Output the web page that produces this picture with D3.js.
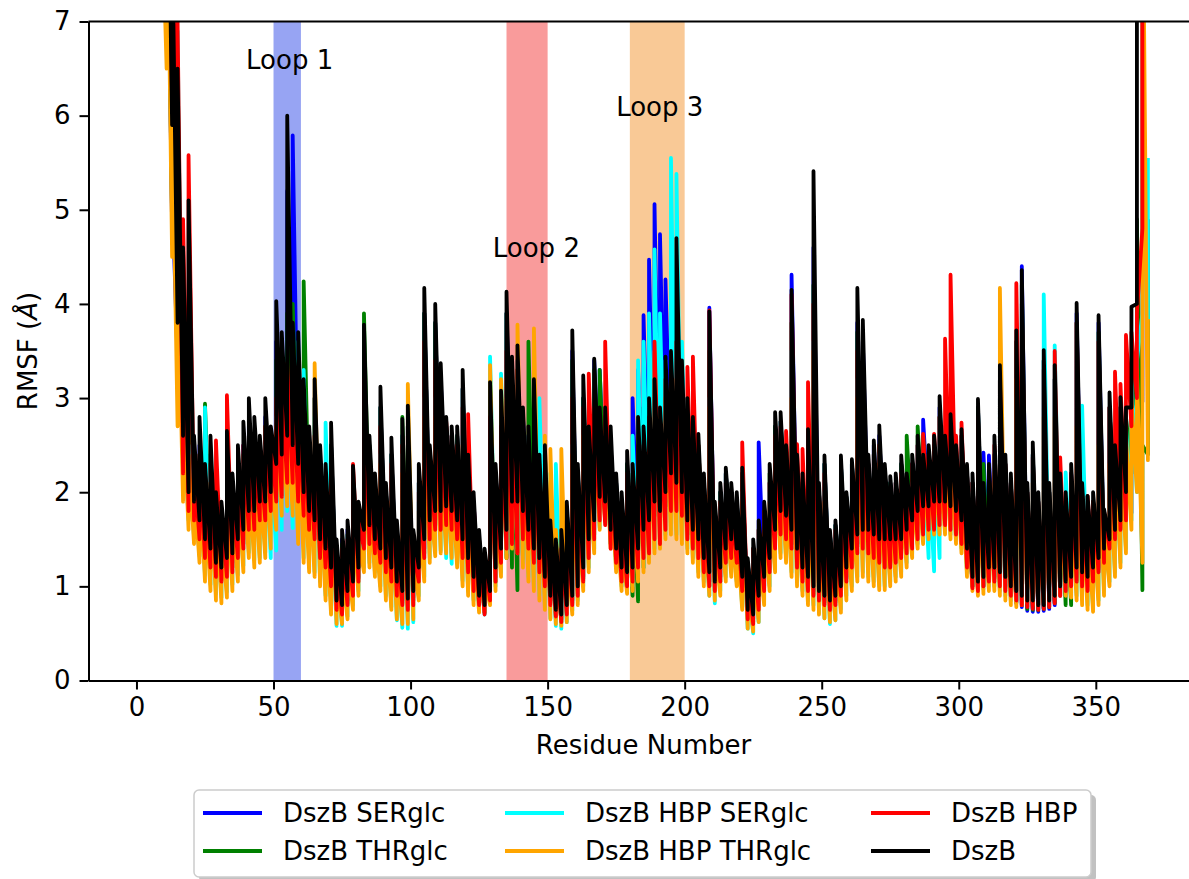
<!DOCTYPE html>
<html>
<head>
<meta charset="utf-8">
<script src="https://d3js.org/d3.v7.min.js"></script>
<style>
  body { margin: 0; background: #fff; }
  svg { display: block; font-family: "DejaVu Sans", sans-serif; }
</style>
</head>
<body>
<div id="chart"></div>
<script>
// Residues sampled every 2 (1, 3, ..., 369); each sample has a low and a high RMSF value (Å)
const residues = d3.range(1, 370, 2);

const seriesNames = ["DszB SERglc", "DszB THRglc", "DszB HBP SERglc", "DszB HBP THRglc", "DszB HBP", "DszB"];
const seriesColors = ["blue", "green", "cyan", "orange", "red", "black"];

const blueLo = [
  9.5, 9, 8.5, 8, 7.5, 7.0, 4.8, 3.4, 2.5, 2.0,
  1.8, 1.6, 1.4, 1.3, 1.15, 1.1, 1.2, 1.25, 1.4, 1.5,
  1.7, 1.7, 1.8, 1.8, 1.9, 2.1, 2.2, 2.3, 2.3, 2.1,
  1.9, 1.7, 1.6, 1.4, 1.3, 1.1, 0.8, 0.78, 0.85, 0.95,
  1.1, 1.5, 1.55, 1.4, 1.3, 1.2, 1.1, 0.95, 0.85, 0.8,
  0.88, 1.1, 1.4, 1.6, 1.7, 1.7, 1.75, 1.7, 1.6, 1.4,
  1.2, 1.0, 0.82, 0.72, 0.88, 1.1, 1.3, 1.5, 1.8, 1.8,
  1.7, 1.5, 1.3, 1.2, 1.0, 0.85, 0.7, 0.65, 0.75, 0.85,
  0.95, 1.1, 1.4, 1.6, 1.85, 1.8, 1.5, 1.3, 1.1, 1.05,
  1.1, 1.3, 1.5, 1.6, 1.8, 1.7, 1.9, 2.1, 2.0, 1.9,
  1.6, 1.5, 1.4, 1.2, 1.05, 1.0, 1.1, 1.3, 1.4, 1.3,
  1.0, 0.7, 0.65, 0.8, 1.0, 1.2, 1.5, 1.7, 1.65, 1.5,
  1.3, 1.1, 1.0, 0.95, 0.9, 0.85, 0.8, 0.85, 0.95, 1.1,
  1.3, 1.45, 1.5, 1.5, 1.45, 1.4, 1.4, 1.4, 1.4, 1.4,
  1.5, 1.6, 1.7, 1.75, 1.75, 1.8, 1.8, 1.8, 1.75, 1.7,
  1.6, 1.3, 1.0, 0.98, 1.0, 1.1, 1.1, 1.05, 1.0, 0.9,
  0.82, 0.78, 0.74, 0.73, 0.73, 0.74, 0.76, 0.8, 0.9, 0.95,
  1.0, 1.1, 1.05, 1.0, 1.1, 1.2, 1.3, 1.45, 1.55, 1.65,
  1.7, 1.78, 2.96, 2.96, 10.0
];
const blueHi = [
  11, 10.5, 10, 9.5, 9, 9, 5.2, 4.4, 3.0, 2.8,
  2.4, 2.5, 2.1, 2.4, 1.9, 1.8, 2.4, 2.1, 2.3, 2.5,
  2.7, 2.6, 2.5, 2.8, 2.6, 3.6, 3.3, 5.2, 5.79, 3.5,
  3.0, 2.5, 3.0, 2.3, 2.1, 2.5, 1.4, 1.5, 1.6, 2.1,
  1.8, 3.5, 2.4, 2.0, 2.9, 2.0, 2.4, 1.6, 2.6, 2.7,
  1.5, 2.1, 3.9, 2.4, 3.8, 3.2, 2.7, 2.6, 2.6, 3.1,
  2.3, 1.9, 1.5, 1.3, 3.0, 2.2, 2.9, 3.9, 3.2, 3.4,
  2.8, 2.6, 3.0, 2.3, 2.4, 1.6, 1.4, 1.5, 1.8, 3.5,
  2.2, 3.0, 2.6, 3.4, 3.3, 2.8, 2.5, 2.1, 1.9, 2.3,
  3.0, 3.3, 3.88, 4.47, 5.06, 4.74, 4.26, 3.5, 3.6, 3.3,
  2.9, 2.6, 2.4, 2.1, 3.96, 1.8, 2.0, 2.2, 2.0, 1.9,
  2.2, 1.25, 1.4, 2.53, 1.8, 2.1, 2.7, 2.75, 2.4, 4.31,
  2.3, 2.1, 2.6, 4.6, 2.0, 2.3, 1.55, 1.65, 2.3, 1.95,
  2.3, 3.8, 3.6, 2.3, 2.5, 2.6, 2.2, 2.1, 2.1, 2.3,
  2.1, 2.3, 2.5, 2.77, 2.4, 2.5, 2.9, 2.5, 2.7, 2.4,
  2.6, 2.2, 2.1, 2.9, 2.42, 2.39, 2.3, 3.2, 2.3, 2.1,
  3.6, 4.4, 2.0, 2.4, 1.9, 3.4, 2.0, 3.2, 2.1, 1.9,
  2.2, 3.9, 2.0, 1.9, 1.9, 3.8, 1.75, 2.9, 2.4, 2.9,
  2.8, 3.0, 3.1, 9.0, 12.0
];

const greenLo = [
  9, 8.5, 8, 7.5, 7.5, 7.0, 4.9, 3.9, 2.6, 1.9,
  1.75, 1.55, 1.35, 1.25, 1.12, 1.08, 1.15, 1.2, 1.35, 1.45,
  1.65, 1.65, 1.75, 1.75, 1.85, 2.0, 2.1, 2.2, 2.2, 2.0,
  1.8, 1.65, 1.55, 1.35, 1.25, 1.05, 0.78, 0.74, 0.82, 0.92,
  1.08, 1.45, 1.5, 1.38, 1.28, 1.18, 1.08, 0.92, 0.82, 0.78,
  0.85, 1.08, 1.35, 1.55, 1.65, 1.65, 1.7, 1.65, 1.55, 1.35,
  1.15, 0.98, 0.8, 0.72, 0.86, 1.05, 1.2, 1.3, 1.2, 0.96,
  1.3, 1.45, 1.25, 1.1, 0.98, 0.82, 0.66, 0.62, 0.72, 0.82,
  0.92, 1.08, 1.35, 1.55, 1.8, 1.75, 1.45, 1.25, 1.05, 0.95,
  0.9, 0.84, 1.2, 1.5, 1.75, 1.65, 1.85, 2.05, 1.95, 1.85,
  1.55, 1.45, 1.35, 1.15, 1.0, 0.95, 1.05, 1.25, 1.35, 1.25,
  0.95, 0.68, 0.62, 0.78, 0.98, 1.18, 1.45, 1.65, 1.6, 1.45,
  1.25, 1.08, 0.98, 0.92, 0.88, 0.83, 0.78, 0.83, 0.93, 1.08,
  1.28, 1.42, 1.48, 1.45, 1.4, 1.38, 1.38, 1.38, 1.38, 1.4,
  1.5, 1.58, 1.68, 1.72, 1.72, 1.78, 1.78, 1.78, 1.72, 1.68,
  1.55, 1.25, 1.0, 0.97, 1.0, 1.08, 1.08, 1.03, 0.98, 0.9,
  0.83, 0.8, 0.76, 0.75, 0.75, 0.76, 0.78, 0.82, 0.92, 0.8,
  0.8, 1.05, 1.0, 1.0, 1.08, 1.18, 1.28, 1.42, 1.52, 1.62,
  1.7, 2.2, 2.85, 0.96, 2.4
];
const greenHi = [
  10, 9.5, 9, 8.5, 9, 9, 6.1, 4.6, 3.25, 2.7,
  2.3, 2.4, 2.94, 2.3, 1.9, 1.8, 2.3, 2.0, 2.2, 2.4,
  2.6, 2.5, 2.4, 2.7, 2.5, 3.4, 3.3, 3.9, 4.0, 3.4,
  4.24, 2.5, 3.0, 2.3, 2.1, 2.5, 1.35, 1.45, 1.55, 2.1,
  1.7, 3.9, 2.5, 2.0, 2.9, 2.0, 2.4, 1.55, 2.8, 2.7,
  1.45, 2.1, 3.9, 2.4, 3.8, 3.1, 2.7, 2.6, 2.6, 3.1,
  2.3, 1.85, 1.5, 1.3, 3.0, 2.2, 2.9, 3.9, 3.2, 3.3,
  2.7, 3.6, 2.6, 2.3, 2.4, 1.6, 1.4, 1.5, 1.8, 3.4,
  2.2, 3.0, 2.6, 3.3, 3.3, 2.8, 2.5, 2.1, 1.9, 2.3,
  2.2, 2.6, 2.9, 3.2, 3.4, 3.2, 3.3, 3.3, 3.6, 3.3,
  2.9, 2.7, 2.5, 2.1, 3.5, 1.8, 2.0, 2.2, 2.0, 1.9,
  2.2, 1.25, 1.4, 1.6, 1.8, 2.2, 2.7, 2.75, 2.4, 3.8,
  2.3, 2.1, 2.5, 4.2, 2.0, 2.3, 1.55, 1.65, 2.3, 1.95,
  2.3, 3.7, 3.4, 2.3, 2.4, 2.5, 2.1, 2.1, 2.1, 2.3,
  2.6, 2.2, 2.7, 2.6, 2.3, 2.5, 2.8, 2.5, 2.7, 2.4,
  2.6, 2.2, 2.1, 2.9, 2.3, 2.2, 2.4, 3.2, 2.3, 2.1,
  3.6, 4.2, 2.0, 2.4, 1.9, 3.4, 2.0, 3.2, 2.1, 1.9,
  2.1, 3.8, 2.0, 1.9, 1.9, 3.7, 1.75, 2.9, 2.4, 2.9,
  2.8, 3.3, 4.9, 2.5, 4.9
];

const cyanLo = [
  9.5, 9, 8.5, 8, 8, 8, 6.5, 3.5, 2.1, 1.7,
  1.52, 1.32, 1.12, 1.02, 0.92, 0.88, 0.94, 1.02, 1.12, 1.22,
  1.36, 1.28, 1.3, 1.36, 1.3, 1.38, 1.6, 1.8, 1.62, 1.5,
  1.3, 1.2, 1.15, 1.05, 0.9, 0.72, 0.58, 0.58, 0.68, 0.8,
  0.95, 1.2, 1.25, 1.15, 1.0, 0.9, 0.78, 0.64, 0.56, 0.55,
  0.62, 0.9, 1.1, 1.3, 1.36, 1.38, 1.3, 1.24, 1.24, 1.06,
  0.95, 0.85, 0.75, 0.7, 0.84, 1.0, 1.15, 1.35, 1.45, 1.4,
  1.25, 1.1, 1.0, 0.9, 0.78, 0.66, 0.58, 0.55, 0.62, 0.74,
  0.85, 1.0, 1.2, 1.4, 1.62, 1.72, 1.45, 1.2, 1.0, 0.97,
  1.0, 1.1, 1.2, 1.3, 1.4, 1.45, 1.55, 1.6, 1.55, 1.5,
  1.4, 1.3, 1.15, 1.05, 0.9, 0.82, 0.95, 1.1, 1.15, 1.05,
  0.78, 0.55, 0.5, 0.62, 0.85, 1.0, 1.2, 1.35, 1.3, 1.15,
  1.05, 0.95, 0.85, 0.8, 0.72, 0.66, 0.6, 0.64, 0.76, 0.9,
  1.0, 1.1, 1.15, 1.1, 1.05, 1.0, 1.0, 1.05, 1.1, 1.15,
  1.25, 1.35, 1.45, 1.5, 1.3, 1.16, 1.3, 1.6, 1.55, 1.5,
  1.4, 1.15, 1.0, 0.95, 0.97, 1.0, 1.0, 0.95, 0.9, 0.85,
  0.84, 0.86, 0.88, 0.86, 0.86, 0.88, 0.9, 0.93, 0.95, 0.95,
  0.93, 0.9, 0.86, 0.8, 0.78, 0.85, 0.95, 1.05, 1.15, 1.25,
  1.4, 1.7, 2.0, 3.9, 3.84
];
const cyanHi = [
  10, 9.5, 9, 8.5, 9, 9, 7.5, 6.9, 3.0, 2.5,
  2.2, 2.3, 2.9, 2.1, 1.9, 1.7, 2.2, 2.0, 2.1, 2.3,
  2.4, 2.3, 2.3, 2.5, 2.4, 2.8, 2.9, 3.2, 3.3, 3.6,
  3.3, 2.4, 2.8, 2.2, 2.74, 2.0, 1.3, 1.3, 1.4, 2.0,
  1.6, 2.9, 2.1, 1.8, 2.4, 1.8, 2.0, 1.4, 2.4, 2.5,
  1.3, 1.9, 3.0, 2.1, 3.0, 2.6, 2.4, 2.3, 2.3, 2.6,
  2.1, 1.7, 1.4, 1.2, 3.44, 2.0, 3.26, 3.0, 2.8, 3.2,
  2.5, 2.4, 2.6, 3.0, 2.4, 2.2, 2.3, 1.5, 1.6, 2.5,
  1.9, 2.5, 2.2, 2.6, 2.4, 2.6, 2.3, 1.9, 1.6, 1.9,
  2.6, 3.4, 3.6, 3.9, 4.58, 3.9, 3.4, 5.55, 5.38, 3.6,
  3.0, 2.6, 2.3, 2.0, 3.0, 1.6, 1.8, 2.0, 1.8, 1.7,
  2.0, 1.1, 1.3, 1.5, 1.7, 2.0, 2.4, 2.5, 2.3, 3.5,
  2.1, 2.0, 2.4, 3.6, 1.9, 2.0, 1.4, 1.5, 2.0, 1.8,
  2.0, 3.2, 3.0, 2.1, 2.2, 2.4, 2.0, 1.9, 2.0, 2.1,
  2.0, 2.1, 2.3, 2.4, 2.3, 2.4, 2.5, 2.7, 2.6, 2.5,
  2.4, 2.1, 2.0, 2.4, 1.9, 2.1, 2.3, 3.0, 2.2, 2.0,
  3.0, 3.2, 1.9, 2.2, 1.8, 4.1, 2.0, 3.56, 2.1, 2.21,
  2.0, 2.2, 2.92, 1.7, 1.7, 2.5, 1.6, 2.2, 2.4, 2.5,
  2.7, 3.2, 3.4, 5.4, 5.55
];

const orangeLo = [
  9, 8.5, 8, 7.5, 7.2, 6.5, 4.5, 2.7, 1.9, 1.6,
  1.45, 1.25, 1.05, 0.95, 0.85, 0.82, 0.88, 0.95, 1.05, 1.15,
  1.3, 1.2, 1.25, 1.3, 1.4, 1.6, 1.75, 1.85, 1.75, 1.45,
  1.25, 1.15, 1.1, 1.0, 0.85, 0.7, 0.6, 0.6, 0.65, 0.75,
  0.9, 1.15, 1.2, 1.1, 0.95, 0.85, 0.75, 0.65, 0.6, 0.6,
  0.65, 0.85, 1.05, 1.25, 1.32, 1.35, 1.35, 1.3, 1.2, 1.0,
  0.9, 0.8, 0.72, 0.72, 0.8, 0.95, 1.1, 1.3, 1.4, 1.35,
  1.2, 1.05, 0.95, 0.85, 0.75, 0.65, 0.6, 0.58, 0.62, 0.7,
  0.8, 0.95, 1.15, 1.35, 1.6, 1.69, 1.4, 1.15, 0.95, 0.92,
  0.95, 1.05, 1.15, 1.25, 1.35, 1.4, 1.5, 1.55, 1.5, 1.45,
  1.35, 1.25, 1.1, 1.0, 0.9, 0.85, 0.9, 1.05, 1.1, 1.0,
  0.75, 0.55, 0.52, 0.62, 0.8, 0.95, 1.15, 1.3, 1.25, 1.1,
  1.0, 0.9, 0.8, 0.75, 0.7, 0.66, 0.62, 0.64, 0.72, 0.85,
  0.95, 1.05, 1.1, 1.05, 1.0, 0.96, 0.96, 1.0, 1.05, 1.1,
  1.2, 1.3, 1.4, 1.45, 1.5, 1.55, 1.55, 1.55, 1.5, 1.45,
  1.35, 1.1, 0.95, 0.9, 0.92, 0.95, 0.95, 0.9, 0.85, 0.8,
  0.78, 0.8, 0.82, 0.8, 0.8, 0.82, 0.85, 0.88, 0.9, 0.9,
  0.88, 0.85, 0.8, 0.75, 0.73, 0.8, 0.9, 1.0, 1.1, 1.2,
  1.35, 1.6, 2.0, 1.25, 2.34
];
const orangeHi = [
  10, 9.5, 9, 8.5, 8.5, 9, 6.1, 4.5, 3.0, 2.4,
  2.1, 2.2, 2.0, 2.1, 1.9, 1.6, 2.1, 1.9, 2.1, 2.2,
  2.3, 2.2, 2.2, 2.4, 2.3, 2.7, 2.8, 2.9, 3.1, 2.8,
  2.4, 2.2, 3.37, 2.0, 1.8, 2.1, 1.1, 1.2, 1.3, 1.8,
  1.5, 2.7, 2.0, 1.7, 2.3, 1.7, 1.9, 1.3, 2.2, 3.15,
  1.3, 1.8, 2.8, 2.0, 2.8, 2.4, 2.3, 2.2, 2.2, 2.5,
  2.0, 1.6, 1.3, 1.1, 3.35, 1.9, 3.2, 3.0, 2.9, 3.78,
  2.6, 2.5, 3.74, 2.3, 2.6, 2.46, 1.6, 2.46, 1.5, 2.4,
  1.8, 2.6, 2.2, 2.7, 2.4, 2.6, 2.2, 1.8, 1.5, 1.9,
  1.9, 2.6, 2.4, 2.7, 3.5, 2.8, 3.0, 3.0, 3.2, 3.0,
  2.6, 2.5, 2.2, 1.8, 2.9, 1.5, 1.7, 1.9, 1.7, 1.6,
  1.9, 1.0, 1.2, 1.4, 1.6, 1.9, 2.3, 2.4, 2.2, 3.0,
  2.1, 2.0, 2.3, 3.5, 1.8, 1.9, 1.3, 1.4, 1.9, 1.7,
  1.9, 3.0, 2.8, 2.0, 2.1, 2.3, 1.9, 1.8, 1.9, 2.0,
  1.9, 2.0, 2.2, 2.3, 2.2, 2.3, 2.4, 2.6, 2.5, 2.4,
  2.3, 2.0, 1.9, 2.3, 1.8, 2.0, 2.2, 4.17, 2.1, 1.9,
  3.2, 3.0, 1.8, 2.1, 1.7, 2.8, 1.8, 2.8, 2.0, 1.7,
  1.9, 2.7, 1.8, 1.7, 1.7, 2.5, 1.6, 2.3, 2.5, 2.4,
  2.6, 3.0, 3.3, 9.0, 3.84
];

const redLo = [
  9.5, 9, 8.5, 8, 8, 8, 6.1, 4.6, 2.2, 1.8,
  1.7, 1.5, 1.3, 1.2, 1.1, 1.05, 1.1, 1.15, 1.3, 1.4,
  1.6, 1.6, 1.7, 1.7, 1.8, 1.9, 1.95, 2.1, 2.1, 1.9,
  1.75, 1.6, 1.5, 1.3, 1.2, 1.0, 0.75, 0.7, 0.8, 0.9,
  1.05, 1.4, 1.45, 1.35, 1.25, 1.15, 1.05, 0.9, 0.8, 0.75,
  0.8, 1.05, 1.3, 1.5, 1.6, 1.6, 1.65, 1.6, 1.5, 1.3,
  1.15, 0.95, 0.8, 0.7, 0.85, 1.05, 1.25, 1.4, 1.45, 1.35,
  1.5, 1.4, 1.25, 1.15, 1.0, 0.8, 0.68, 0.62, 0.7, 0.8,
  0.9, 1.05, 1.3, 1.5, 1.7, 1.65, 1.4, 1.25, 1.05, 1.0,
  1.05, 1.2, 1.3, 1.35, 1.5, 1.45, 1.6, 1.8, 1.8, 1.75,
  1.5, 1.4, 1.3, 1.15, 1.0, 0.95, 1.05, 1.25, 1.3, 1.25,
  0.95, 0.65, 0.6, 0.75, 0.95, 1.15, 1.4, 1.55, 1.5, 1.4,
  1.2, 1.05, 0.95, 0.9, 0.85, 0.8, 0.75, 0.8, 0.9, 1.05,
  1.2, 1.35, 1.4, 1.35, 1.3, 1.25, 1.2, 1.2, 1.25, 1.3,
  1.35, 1.4, 1.5, 1.55, 1.6, 1.6, 1.65, 1.65, 1.6, 1.55,
  1.45, 1.2, 0.98, 0.95, 1.0, 1.05, 1.05, 1.0, 0.95, 0.9,
  0.85, 0.8, 0.78, 0.76, 0.75, 0.76, 0.78, 0.82, 0.9, 0.95,
  1.0, 1.05, 1.0, 0.95, 1.05, 1.15, 1.25, 1.4, 1.5, 1.6,
  1.7, 2.7, 3.0, 4.8, 10.0
];
const redHi = [
  11, 10.5, 10, 9.5, 9.5, 10, 8, 7, 4.9, 5.58,
  2.3, 2.4, 2.2, 2.3, 2.55, 1.8, 3.03, 2.0, 2.3, 2.5,
  2.6, 2.5, 2.4, 2.7, 2.6, 3.0, 3.1, 3.37, 3.3, 3.0,
  2.8, 2.4, 2.6, 2.2, 2.0, 2.3, 1.3, 1.4, 1.5, 2.3,
  1.7, 3.2, 2.3, 1.9, 2.7, 1.9, 2.3, 1.5, 2.5, 2.6,
  1.4, 2.0, 3.6, 2.3, 3.4, 2.9, 2.75, 2.6, 2.5, 2.9,
  2.83, 1.9, 1.5, 1.3, 2.8, 2.1, 2.7, 3.5, 3.0, 3.3,
  2.6, 2.4, 2.9, 2.1, 2.2, 1.5, 1.35, 1.4, 1.7, 3.0,
  2.1, 2.9, 3.26, 2.9, 2.7, 3.6, 2.5, 2.0, 1.8, 2.2,
  2.1, 2.5, 2.5, 2.8, 3.6, 2.7, 3.2, 3.3, 3.6, 3.2,
  3.33, 3.44, 2.5, 2.0, 3.93, 1.7, 1.9, 2.1, 1.9, 1.8,
  2.53, 1.2, 1.4, 1.6, 1.8, 2.1, 2.6, 2.7, 2.65, 4.1,
  2.51, 2.46, 3.17, 4.0, 2.0, 2.2, 1.5, 1.6, 2.2, 1.9,
  2.2, 3.5, 3.2, 2.3, 2.4, 2.5, 2.2, 2.0, 2.1, 2.2,
  2.1, 2.3, 2.5, 2.62, 2.4, 2.62, 2.8, 3.63, 4.31, 2.6,
  2.74, 2.2, 2.1, 2.8, 2.0, 2.2, 2.5, 3.2, 2.3, 2.1,
  4.22, 4.0, 2.0, 2.37, 1.9, 3.3, 2.0, 3.5, 2.37, 1.9,
  2.2, 3.8, 2.0, 1.96, 1.9, 3.6, 1.8, 2.9, 3.28, 3.15,
  3.67, 3.7, 3.9, 10.0, 12.0
];

const blackLo = [
  10, 9.5, 9, 8.5, 8, 8, 5.9, 3.8, 2.6, 2.0,
  1.9, 1.7, 1.5, 1.4, 1.25, 1.2, 1.3, 1.35, 1.5, 1.6,
  1.8, 1.8, 1.9, 1.9, 2.0, 2.3, 2.4, 2.6, 2.5, 2.3,
  2.0, 1.8, 1.7, 1.5, 1.4, 1.2, 0.85, 0.8, 0.95, 1.05,
  1.2, 1.6, 1.65, 1.5, 1.4, 1.3, 1.2, 1.05, 0.95, 0.87,
  0.95, 1.2, 1.5, 1.7, 1.8, 1.8, 1.85, 1.8, 1.7, 1.5,
  1.3, 1.1, 0.9, 0.8, 0.95, 1.2, 1.4, 1.6, 1.9, 1.9,
  1.8, 1.6, 1.4, 1.3, 1.1, 0.9, 0.75, 0.7, 0.8, 0.9,
  1.0, 1.2, 1.5, 1.7, 1.95, 1.9, 1.6, 1.4, 1.2, 1.15,
  1.2, 1.4, 1.6, 1.7, 1.9, 1.8, 2.0, 2.2, 2.1, 2.0,
  1.7, 1.6, 1.5, 1.3, 1.15, 1.05, 1.2, 1.4, 1.5, 1.4,
  1.1, 0.75, 0.7, 0.9, 1.1, 1.3, 1.6, 1.8, 1.75, 1.6,
  1.4, 1.2, 1.1, 1.0, 0.95, 0.9, 0.85, 0.9, 1.0, 1.2,
  1.4, 1.55, 1.6, 1.6, 1.55, 1.5, 1.5, 1.5, 1.5, 1.5,
  1.6, 1.7, 1.8, 1.85, 1.85, 1.9, 1.9, 1.9, 1.85, 1.8,
  1.7, 1.4, 1.1, 1.05, 1.1, 1.2, 1.2, 1.15, 1.1, 1.0,
  0.95, 0.9, 0.85, 0.85, 0.8, 0.8, 0.85, 0.9, 1.0, 1.05,
  1.1, 1.2, 1.15, 1.1, 1.2, 1.3, 1.4, 1.5, 1.6, 1.7,
  2.0, 2.9, 4.0, 9.0, 10.0
];
const blackHi = [
  12, 11.5, 11, 10.5, 10, 10, 8, 6.5, 4.6, 5.1,
  2.6, 2.8, 2.3, 2.6, 2.0, 1.9, 2.65, 2.2, 2.5, 2.75,
  3.0, 2.8, 2.6, 3.0, 2.7, 4.03, 3.7, 6.0, 3.8, 3.7,
  3.2, 2.7, 3.2, 2.5, 2.3, 2.74, 1.5, 1.6, 1.7, 2.28,
  1.9, 3.78, 2.6, 2.2, 3.12, 2.1, 2.58, 1.7, 2.78, 2.92,
  1.6, 2.3, 4.17, 2.5, 4.0, 3.37, 2.8, 2.7, 2.7, 3.3,
  2.4, 2.0, 1.6, 1.4, 3.17, 2.3, 3.08, 4.13, 3.44, 3.56,
  2.9, 2.7, 3.2, 2.4, 2.5, 1.7, 1.5, 1.6, 1.9, 3.72,
  2.3, 3.24, 2.7, 3.42, 2.9, 2.9, 2.7, 2.2, 2.0, 2.44,
  2.3, 2.8, 2.7, 3.0, 3.2, 2.9, 3.44, 3.5, 4.7, 3.4,
  3.0, 2.8, 2.62, 2.2, 3.92, 1.9, 2.1, 2.26, 2.1, 2.0,
  2.26, 1.3, 1.5, 1.7, 1.9, 2.3, 2.85, 2.85, 2.5, 4.15,
  2.4, 2.2, 2.67, 5.41, 2.1, 2.39, 1.6, 1.7, 2.39, 2.0,
  2.35, 4.17, 3.83, 2.4, 2.55, 2.71, 2.3, 2.17, 2.2, 2.39,
  2.2, 2.4, 2.6, 2.4, 2.5, 2.6, 3.02, 2.6, 2.83, 2.5,
  2.67, 2.3, 2.2, 2.99, 2.1, 2.3, 2.6, 3.35, 2.4, 2.2,
  3.72, 4.36, 2.1, 2.53, 2.0, 3.51, 2.1, 3.35, 2.2, 2.0,
  2.3, 4.01, 2.1, 1.96, 2.0, 3.88, 1.82, 3.06, 2.5, 3.01,
  2.9, 3.97, 9.0, 11.0, 12.0
];

// Highlighted loop regions
const loopNames = ["Loop 1", "Loop 2", "Loop 3"];
const loopStart = [50, 135, 180];
const loopEnd = [60, 150, 200];
const loopColors = ["#97a4f3", "#f99b9b", "#f9c996"];
const loopLabelX = [40, 130, 175];
const loopLabelY = [6.5, 4.5, 6.0];

const xTicks = [0, 50, 100, 150, 200, 250, 300, 350];
const yTicks = [0, 1, 2, 3, 4, 5, 6, 7];

// Configuration
const width = 1189;
const height = 879;
const fontSize = 26;
const lineWidth = 3.8;

const x = d3.scaleLinear().domain([-17.5, 387.5]).range([88.5, 1198.6]);
const y = d3.scaleLinear().domain([0, 7]).range([680.5, 21.5]);

const series = seriesNames.map((name, k) => ({
  name: name,
  color: seriesColors[k],
  lo: [blueLo, greenLo, cyanLo, orangeLo, redLo, blackLo][k],
  hi: [blueHi, greenHi, cyanHi, orangeHi, redHi, blackHi][k]
}));

const svg = d3.select("#chart").append("svg")
  .attr("width", width)
  .attr("height", height);

svg.append("defs").append("clipPath").attr("id", "plot-clip")
  .append("rect")
  .attr("x", x.range()[0]).attr("y", y.range()[1])
  .attr("width", x.range()[1] - x.range()[0])
  .attr("height", y.range()[0] - y.range()[1]);

const plot = svg.append("g").attr("clip-path", "url(#plot-clip)");

// Loop spans
plot.selectAll("rect.loop")
  .data(loopNames)
  .join("rect")
  .attr("class", "loop")
  .attr("x", (d, i) => x(loopStart[i]))
  .attr("width", (d, i) => x(loopEnd[i]) - x(loopStart[i]))
  .attr("y", y(7))
  .attr("height", y(0) - y(7))
  .attr("fill", (d, i) => loopColors[i]);

// RMSF lines: each sampled residue is drawn as a vertical stroke low -> high
const line = d3.line()
  .x((d) => x(d[0]))
  .y((d) => y(d[1]));

plot.selectAll("path.rmsf")
  .data(series)
  .join("path")
  .attr("class", "rmsf")
  .attr("fill", "none")
  .attr("stroke", (d) => d.color)
  .attr("stroke-width", lineWidth)
  .attr("stroke-linejoin", "round")
  .attr("d", (d) => line(residues.flatMap((r, i) => [[r, d.lo[i]], [r, d.hi[i]]])));

// Loop labels
svg.selectAll("text.loop-label")
  .data(loopNames)
  .join("text")
  .attr("class", "loop-label")
  .attr("x", (d, i) => x(loopLabelX[i]))
  .attr("y", (d, i) => y(loopLabelY[i]))
  .attr("font-size", fontSize)
  .attr("fill", "#000")
  .text((d) => d);

// Axes
const xAxis = svg.append("g")
  .attr("transform", `translate(0,${y(0)})`)
  .call(d3.axisBottom(x).tickValues(xTicks).tickSize(9).tickSizeOuter(0).tickPadding(8));

const yAxis = svg.append("g")
  .attr("transform", `translate(${x.range()[0]},0)`)
  .call(d3.axisLeft(y).tickValues(yTicks).tickFormat(d3.format("d")).tickSize(9).tickSizeOuter(0).tickPadding(9));

[xAxis, yAxis].forEach((a) => {
  a.selectAll("text").attr("font-size", fontSize).attr("font-family", "DejaVu Sans").attr("fill", "#000");
  a.selectAll("line").attr("stroke", "#000").attr("stroke-width", 2);
  a.select(".domain").attr("stroke", "#000").attr("stroke-width", 2);
});

// Top spine (right spine sits outside the picture)
svg.append("line")
  .attr("x1", x.range()[0]).attr("x2", x.range()[1])
  .attr("y1", y(7)).attr("y2", y(7))
  .attr("stroke", "#000").attr("stroke-width", 2);

svg.append("text")
  .attr("x", (x.range()[0] + x.range()[1]) / 2)
  .attr("y", 754)
  .attr("text-anchor", "middle")
  .attr("font-size", fontSize)
  .text("Residue Number");

const yLabel = svg.append("text")
  .attr("transform", `translate(37,${(y(0) + y(7)) / 2}) rotate(-90)`)
  .attr("text-anchor", "middle")
  .attr("font-size", fontSize);
yLabel.append("tspan").text("RMSF (");
yLabel.append("tspan").attr("font-style", "italic").text("Å");
yLabel.append("tspan").text(")");

// Legend (3 columns, filled column by column)
const legendBox = { x: 194, y: 790, w: 897, h: 87 };
const legendColX = [203, 505, 871];
const legendRowY = [813, 851];

svg.append("rect")
  .attr("x", legendBox.x + 5).attr("y", legendBox.y + 5)
  .attr("width", legendBox.w).attr("height", legendBox.h)
  .attr("rx", 5)
  .attr("fill", "#a6a6a6").attr("opacity", 0.7);

svg.append("rect")
  .attr("x", legendBox.x).attr("y", legendBox.y)
  .attr("width", legendBox.w).attr("height", legendBox.h)
  .attr("rx", 5)
  .attr("fill", "#fff")
  .attr("stroke", "#cccccc").attr("stroke-width", 1.5);

const legendItems = svg.selectAll("g.legend-item")
  .data(series)
  .join("g")
  .attr("class", "legend-item")
  .attr("transform", (d, i) => `translate(${legendColX[Math.floor(i / 2)]},${legendRowY[i % 2]})`);

legendItems.append("line")
  .attr("x1", 0).attr("x2", 59)
  .attr("stroke", (d) => d.color)
  .attr("stroke-width", lineWidth);

legendItems.append("text")
  .attr("x", 80)
  .attr("dy", "0.35em")
  .attr("font-size", fontSize)
  .text((d) => d.name);
</script>
</body>
</html>
